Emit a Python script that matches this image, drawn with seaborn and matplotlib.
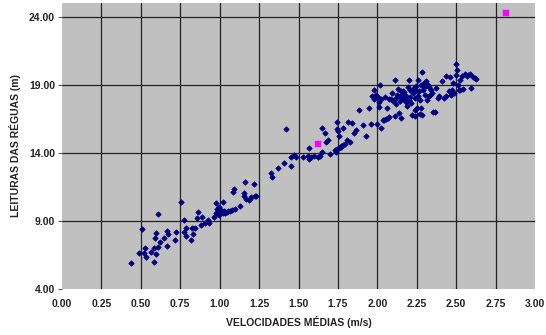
import numpy as np
import pandas as pd
import matplotlib
matplotlib.use("Agg")
import matplotlib.pyplot as plt
import seaborn as sns

# Mean velocity (m/s) against gauge readings (m)
velocidade = [
    0.436, 0.49, 0.509, 0.518, 0.524, 0.53, 0.566, 0.586, 0.586, 0.588, 0.595, 0.597,
    0.606, 0.61, 0.62, 0.645, 0.663, 0.663, 0.67, 0.714, 0.725, 0.755, 0.775, 0.775,
    0.784, 0.789, 0.817, 0.824, 0.83, 0.841, 0.855, 0.861, 0.881, 0.888, 0.907, 0.927,
    0.932, 0.967, 0.974, 0.976, 0.98, 0.987, 0.993, 0.998, 1.007, 1.018, 1.02, 1.026,
    1.035, 1.044, 1.055, 1.068, 1.077, 1.086, 1.09, 1.095, 1.126, 1.152, 1.156, 1.163,
    1.167, 1.183, 1.192, 1.196, 1.216, 1.222, 1.233,
    1.326, 1.33, 1.37, 1.41, 1.423, 1.452, 1.454, 1.469, 1.482, 1.531, 1.56, 1.566,
    1.568, 1.626, 1.637, 1.65, 1.65, 1.667, 1.672, 1.685, 1.70, 1.74, 1.744, 1.744,
    1.746, 1.749, 1.758, 1.76, 1.769, 1.78, 1.782, 1.795, 1.808, 1.815, 1.824, 1.841,
    1.85, 1.866, 1.885, 1.91, 1.927, 1.958, 1.949, 1.967, 1.978, 1.982, 1.991, 1.996,
    2.004, 2.011, 2.015, 2.022, 2.026, 2.044, 2.053, 2.059, 2.066, 2.073, 2.077, 2.086,
    2.097, 2.106, 2.115, 2.115, 2.121, 2.126, 2.132, 2.137, 2.141, 2.148, 2.152, 2.161,
    2.165, 2.174, 2.181, 2.187, 2.192, 2.198, 2.203, 2.209, 2.214, 2.22, 2.225, 2.231,
    2.236, 2.242, 2.247, 2.251, 2.255, 2.262, 2.269, 2.275, 2.28, 2.284, 2.286, 2.291,
    2.297, 2.302, 2.306, 2.311, 2.315, 2.319, 2.328, 2.335, 2.341, 2.355, 2.363, 2.372,
    2.385, 2.39, 2.412, 2.423, 2.434, 2.438, 2.452, 2.46, 2.467, 2.471, 2.478, 2.485,
    2.496, 2.5, 2.504, 2.509, 2.515, 2.522, 2.526, 2.535, 2.544, 2.555, 2.566, 2.577,
    2.588, 2.597, 2.606, 2.619, 2.628,
    2.01, 2.035, 2.05, 2.095, 2.12, 2.145, 2.17, 2.19, 2.21, 2.24, 2.26, 2.29,
    2.30, 2.325, 2.345, 2.24, 2.27, 2.18, 2.16, 1.58, 1.60, 1.77, 1.73,
]
leitura = [
    5.89, 6.68, 8.40, 6.68, 7.0, 6.38, 6.75, 6.01, 7.0, 7.76, 8.10, 6.58,
    9.50, 7.07, 7.44, 7.78, 7.17, 8.27, 8.03, 7.59, 8.20, 10.39, 9.06, 8.2,
    7.91, 8.47, 7.64, 8.47, 8.03, 8.52, 9.21, 9.68, 8.71, 9.28, 8.89, 9.09,
    8.89, 9.33, 9.58, 10.36, 9.90, 9.58, 10.07, 9.45, 9.82, 10.39, 9.58, 9.75,
    9.58, 9.70, 9.77, 9.77, 9.82, 11.17, 11.37, 9.87, 10.14, 11.10, 10.86, 11.91,
    10.63, 10.56, 10.63, 10.76, 11.71, 10.88, 10.81,
    12.53, 12.23, 12.87, 13.26, 15.79, 13.02, 13.75, 13.85, 13.75, 13.75, 13.80, 13.58,
    14.39, 13.75, 13.80, 14.05, 15.87, 15.47, 14.81, 14.93, 13.93, 14.12, 14.27, 16.29,
    15.77, 15.65, 15.23, 14.37, 14.54, 15.87, 14.57, 14.66, 14.98, 16.26, 14.79, 16.24,
    15.5, 15.72, 17.14, 16.06, 15.23, 16.14, 17.29, 18.18, 18.67, 17.98, 18.30, 16.14,
    18.13, 17.39, 19.01, 15.82, 18.0, 16.46, 16.51, 17.32, 16.58, 18.0, 16.68, 17.98,
    17.81, 17.93, 19.36, 16.70, 17.64, 18.30, 18.72, 16.95, 18.18, 18.55, 16.58, 18.0,
    18.37, 18.18, 18.18, 17.44, 18.86, 19.36, 17.93, 18.67, 17.69, 16.83, 18.42, 18.79,
    18.05, 16.70, 18.96, 17.32, 19.41, 18.55, 17.93, 19.04, 17.32, 19.95, 16.83, 18.67,
    19.16, 18.30, 19.28, 18.91, 17.93, 19.04, 18.18, 18.30, 18.67, 17.0, 17.0, 18.79,
    18.05, 18.18, 19.33, 18.05, 18.18, 19.65, 18.59, 19.60, 18.30, 18.67, 19.16, 18.42,
    20.56, 19.77, 20.14, 19.04, 18.67, 19.41, 18.67, 19.70, 18.72, 19.85, 19.65, 19.77,
    19.85, 18.79, 19.60, 19.53, 19.45,
    17.75, 16.45, 18.1, 18.4, 18.05, 17.85, 18.5, 17.95, 18.15, 18.6, 18.2, 18.95,
    19.1, 18.85, 18.45, 17.2, 16.9, 17.8, 18.6, 13.7, 13.8, 14.45, 14.2,
]

# Highlighted observations
vel_destaque = [1.623, 2.813]
leit_destaque = [14.64, 24.32]

x_ticks = [0.00, 0.25, 0.50, 0.75, 1.00, 1.25, 1.50, 1.75, 2.00, 2.25, 2.50, 2.75, 3.00]
y_ticks = [4.00, 9.00, 14.00, 19.00, 24.00]

df = pd.DataFrame({"v": velocidade, "h": leitura})
df_d = pd.DataFrame({"v": vel_destaque, "h": leit_destaque})

sns.set_theme(style="white")
plt.rcParams["font.family"] = ["Liberation Sans", "DejaVu Sans"]

fig = plt.figure(figsize=(5.46, 3.35), dpi=100)
ax = fig.add_axes([62 / 546, 1 - 289 / 335, (535 - 62) / 546, (289 - 3) / 335])
ax.set_facecolor("#C0C0C0")

sns.scatterplot(data=df, x="v", y="h", marker="D", s=7, color="#000080",
                edgecolor="#000080", linewidth=0.7, ax=ax, zorder=3)
sns.scatterplot(data=df_d, x="v", y="h", marker="s", s=14, color="#FF00FF",
                edgecolor="#FF00FF", linewidth=0.3, ax=ax, zorder=4)

ax.set_xlim(0, 3.0)
ax.set_ylim(4, 25.05)
ax.set_xticks(x_ticks)
ax.set_yticks(y_ticks)
ax.set_xticklabels([f"{t:.2f}" for t in x_ticks])
ax.set_yticklabels([f"{t:.2f}" for t in y_ticks])

ax.grid(True, color="#222222", linewidth=0.9)
ax.set_axisbelow(True)
for gl, t in zip(ax.get_xgridlines(), x_ticks):
    if t in (0.0, 3.0):
        gl.set_visible(False)
for gl, t in zip(ax.get_ygridlines(), y_ticks):
    if t == 4.0:
        gl.set_visible(False)

for s in ax.spines.values():
    s.set_visible(False)

ax.tick_params(axis="y", which="both", left=True, length=3, width=0.8,
               color="#555555", pad=2, labelsize=7.5, labelcolor="#222222")
ax.tick_params(axis="x", which="both", bottom=False, length=0, pad=7,
               labelsize=7.5, labelcolor="#222222")
for lab in ax.get_xticklabels() + ax.get_yticklabels():
    lab.set_fontweight("bold")

ax.set_xlabel("VELOCIDADES MÉDIAS (m/s)", fontsize=7.5, fontweight="bold",
              color="#222222", labelpad=5)
ax.set_ylabel("LEITURAS DAS RÉGUAS (m)", fontsize=7.5, fontweight="bold",
              color="#222222", labelpad=6)

fig.savefig("out.png", dpi=100)
